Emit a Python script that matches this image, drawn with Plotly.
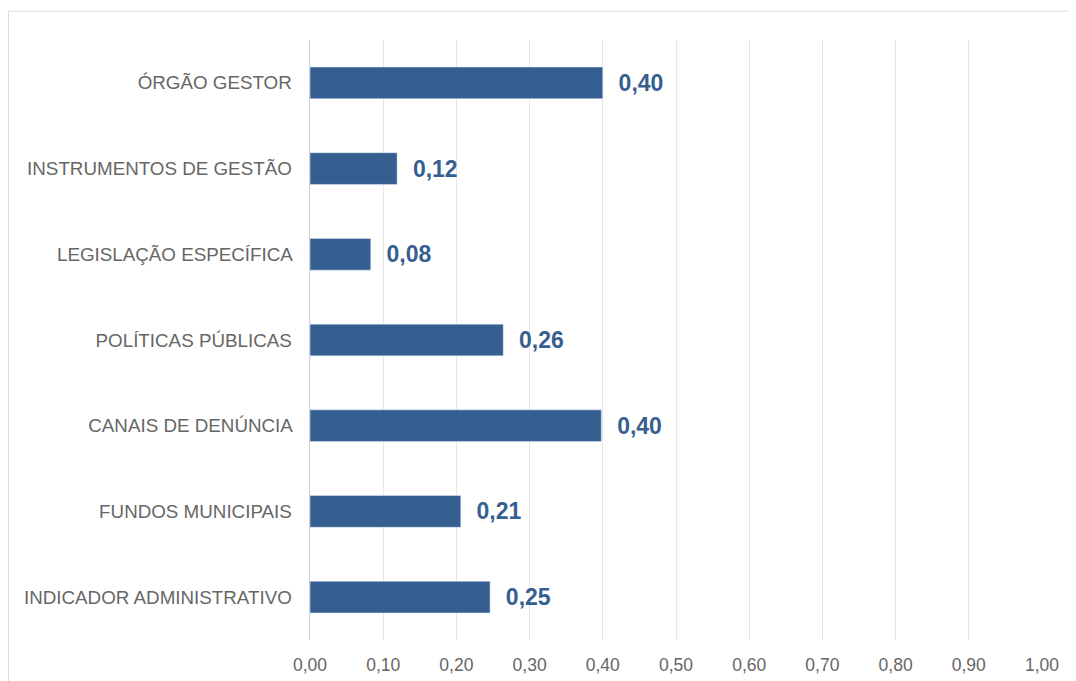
import plotly.graph_objects as go

categories = ["ÓRGÃO GESTOR", "INSTRUMENTOS DE GESTÃO", "LEGISLAÇÃO ESPECÍFICA",
              "POLÍTICAS PÚBLICAS", "CANAIS DE DENÚNCIA", "FUNDOS MUNICIPAIS",
              "INDICADOR ADMINISTRATIVO"]
values = [0.40, 0.119, 0.083, 0.264, 0.398, 0.206, 0.246]
tick_vals = [i / 10 for i in range(11)]

BAR = "#365F91"
GREY = "#666666"
labels = ["\u00a0\u00a0" + f"{v:.2f}".replace(".", ",") for v in values]

fig = go.Figure(go.Bar(
    x=values, y=categories, orientation="h",
    marker_color=BAR, width=0.37,
    text=labels, textposition="outside", cliponaxis=False,
    textfont=dict(family="Liberation Sans, Arial", size=23, color=BAR, weight="bold"),
))

# page body adds an 8px offset, margins account for it
fig.update_layout(
    width=1076, height=681,
    margin=dict(l=302, r=42, t=32, b=49),
    paper_bgcolor="white", plot_bgcolor="white",
    separators=",.",
    showlegend=False,
    font=dict(family="Liberation Sans, Arial", color=GREY),
    shapes=[dict(type="rect", xref="paper", yref="paper",
                 x0=-0.4119, x1=1.5, y0=-0.5, y1=1.048,
                 line=dict(color="#d9d9d9", width=1), fillcolor="rgba(0,0,0,0)",
                 layer="below")],
)
fig.update_xaxes(range=[0, 1.0], tickvals=tick_vals, tickformat=".2f",
                 showgrid=True, gridcolor="#e6e6e6", gridwidth=1,
                 zeroline=False, showline=False,
                 tickfont=dict(size=17.5, color=GREY),
                 ticks="outside", ticklen=9, tickcolor="rgba(0,0,0,0)")
fig.update_yaxes(autorange="reversed", showline=True, linecolor="#d0d0d0",
                 linewidth=1, ticks="outside", ticklen=3, tickcolor="rgba(0,0,0,0)",
                 ticksuffix="  ", tickfont=dict(size=18.8, color=GREY))

fig.write_html("out.html")
